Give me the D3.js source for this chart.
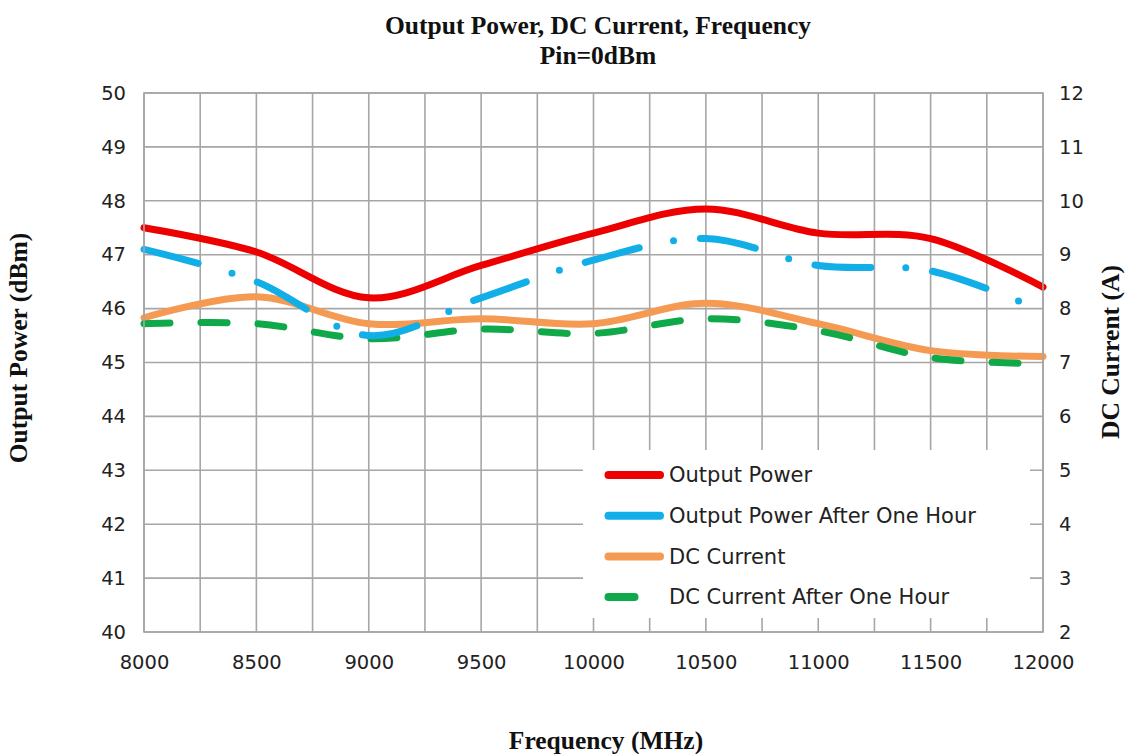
<!DOCTYPE html>
<html>
<head>
<meta charset="utf-8">
<script src="https://cdn.jsdelivr.net/npm/d3@7"></script>
<style>
  body { margin: 0; background: #fff; }
  .tick-label { font-family: 'DejaVu Sans', sans-serif; font-size: 19.5px; fill: #222; }
  .legend-label { font-family: 'DejaVu Sans', sans-serif; font-size: 21px; fill: #222; }
  .serif-bold { font-family: 'Liberation Serif', 'Times New Roman', serif; font-weight: bold; font-size: 25.5px; fill: #111; }
</style>
</head>
<body>
<svg id="chart" width="1129" height="754"></svg>
<script>
// data
const frequency = [8000, 8500, 9000, 9500, 10000, 10500, 11000, 11500, 12000];
const outputPower = [47.5, 47.05, 46.2, 46.8, 47.4, 47.85, 47.4, 47.3, 46.4];
const outputPowerHour = [47.1, 46.5, 45.5, 46.2, 46.9, 47.3, 46.8, 46.7, 45.95];
const dcCurrent = [7.83, 8.22, 7.72, 7.81, 7.72, 8.1, 7.72, 7.22, 7.11];
const dcCurrentHour = [7.72, 7.72, 7.44, 7.62, 7.54, 7.81, 7.59, 7.09, 6.98];

const xTicks = d3.range(8000, 12001, 500);
const xGrid = d3.range(8000, 12001, 250);
const leftTicks = d3.range(40, 51, 1);
const rightTicks = d3.range(2, 13, 1);

const svg = d3.select('#chart');
const margin = { top: 93, right: 86, bottom: 122, left: 144 };
const width = +svg.attr('width');
const height = +svg.attr('height');
const innerW = width - margin.left - margin.right;
const innerH = height - margin.top - margin.bottom;

const x = d3.scaleLinear().domain([8000, 12000]).range([margin.left, margin.left + innerW]);
const yLeft = d3.scaleLinear().domain([40, 50]).range([margin.top + innerH, margin.top]);
const yRight = d3.scaleLinear().domain([2, 12]).range([margin.top + innerH, margin.top]);

// gridlines
const grid = svg.append('g').attr('stroke', '#a6a6a6').attr('stroke-width', 1.6);
grid.selectAll('.vgrid').data(xGrid).join('line')
  .attr('class', 'vgrid')
  .attr('x1', d => x(d)).attr('x2', d => x(d))
  .attr('y1', margin.top).attr('y2', margin.top + innerH);
grid.selectAll('.hgrid').data(leftTicks).join('line')
  .attr('class', 'hgrid')
  .attr('x1', margin.left).attr('x2', margin.left + innerW)
  .attr('y1', d => yLeft(d)).attr('y2', d => yLeft(d));

// axes, drawn by d3 then stripped to labels only
const bottomAxis = svg.append('g')
  .attr('transform', `translate(0,${margin.top + innerH})`)
  .call(d3.axisBottom(x).tickValues(xTicks).tickSize(0).tickPadding(23).tickFormat(d3.format('d')));
const leftAxis = svg.append('g')
  .attr('transform', `translate(${margin.left},0)`)
  .call(d3.axisLeft(yLeft).tickValues(leftTicks).tickSize(0).tickPadding(18));
const rightAxis = svg.append('g')
  .attr('transform', `translate(${margin.left + innerW},0)`)
  .call(d3.axisRight(yRight).tickValues(rightTicks).tickSize(0).tickPadding(16));

[bottomAxis, leftAxis, rightAxis].forEach(a => {
  a.select('.domain').remove();
  a.attr('font-family', null).attr('font-size', null);
  a.selectAll('text').attr('class', 'tick-label').attr('fill', null);
});

// series
const curve = d3.line().curve(d3.curveCardinal.tension(0));
const series = [
  { name: 'Output Power', values: outputPower, scale: yLeft, colour: '#ec0000', dash: null },
  { name: 'Output Power After One Hour', values: outputPowerHour, scale: yLeft, colour: '#12aee8', dash: '56,35,0,27' },
  { name: 'DC Current', values: dcCurrent, scale: yRight, colour: '#f59a52', dash: null },
  { name: 'DC Current After One Hour', values: dcCurrentHour, scale: yRight, colour: '#10a94a', dash: '26,31' }
];

// draw order: current lines under power lines
[2, 3, 0, 1].forEach(i => {
  const s = series[i];
  svg.append('path')
    .attr('d', curve(frequency.map((f, j) => [x(f), s.scale(s.values[j])])))
    .attr('fill', 'none')
    .attr('stroke', s.colour)
    .attr('stroke-width', 7)
    .attr('stroke-linecap', 'round')
    .attr('stroke-dasharray', s.dash);
});

// legend with white box over the grid
const legend = svg.append('g').attr('transform', 'translate(583,450)');
legend.append('rect').attr('width', 447).attr('height', 168).attr('fill', '#fff');
const item = legend.selectAll('.item').data(series).join('g')
  .attr('class', 'item')
  .attr('transform', (d, i) => `translate(0,${25 + i * 40.7})`);
item.append('line')
  .attr('x1', 25.5).attr('x2', 77)
  .attr('stroke', d => d.colour)
  .attr('stroke-width', 8)
  .attr('stroke-linecap', 'round')
  .attr('stroke-dasharray', d => d.dash);
item.append('text')
  .attr('class', 'legend-label')
  .attr('x', 86)
  .attr('dy', '0.35em')
  .text(d => d.name);

// borders
svg.append('rect')
  .attr('x', margin.left).attr('y', margin.top)
  .attr('width', innerW).attr('height', innerH)
  .attr('fill', 'none').attr('stroke', '#a6a6a6').attr('stroke-width', 1.6);

// titles
svg.append('text').attr('class', 'serif-bold')
  .attr('x', 598).attr('y', 34).attr('text-anchor', 'middle')
  .text('Output Power, DC Current, Frequency');
svg.append('text').attr('class', 'serif-bold')
  .attr('x', 598).attr('y', 64).attr('text-anchor', 'middle')
  .text('Pin=0dBm');
svg.append('text').attr('class', 'serif-bold')
  .attr('x', 606).attr('y', 749).attr('text-anchor', 'middle')
  .text('Frequency (MHz)');
svg.append('text').attr('class', 'serif-bold')
  .attr('transform', 'translate(27,348) rotate(-90)').attr('text-anchor', 'middle')
  .text('Output Power (dBm)');
svg.append('text').attr('class', 'serif-bold')
  .attr('transform', 'translate(1119,352) rotate(-90)').attr('text-anchor', 'middle')
  .text('DC Current (A)');
</script>
</body>
</html>
